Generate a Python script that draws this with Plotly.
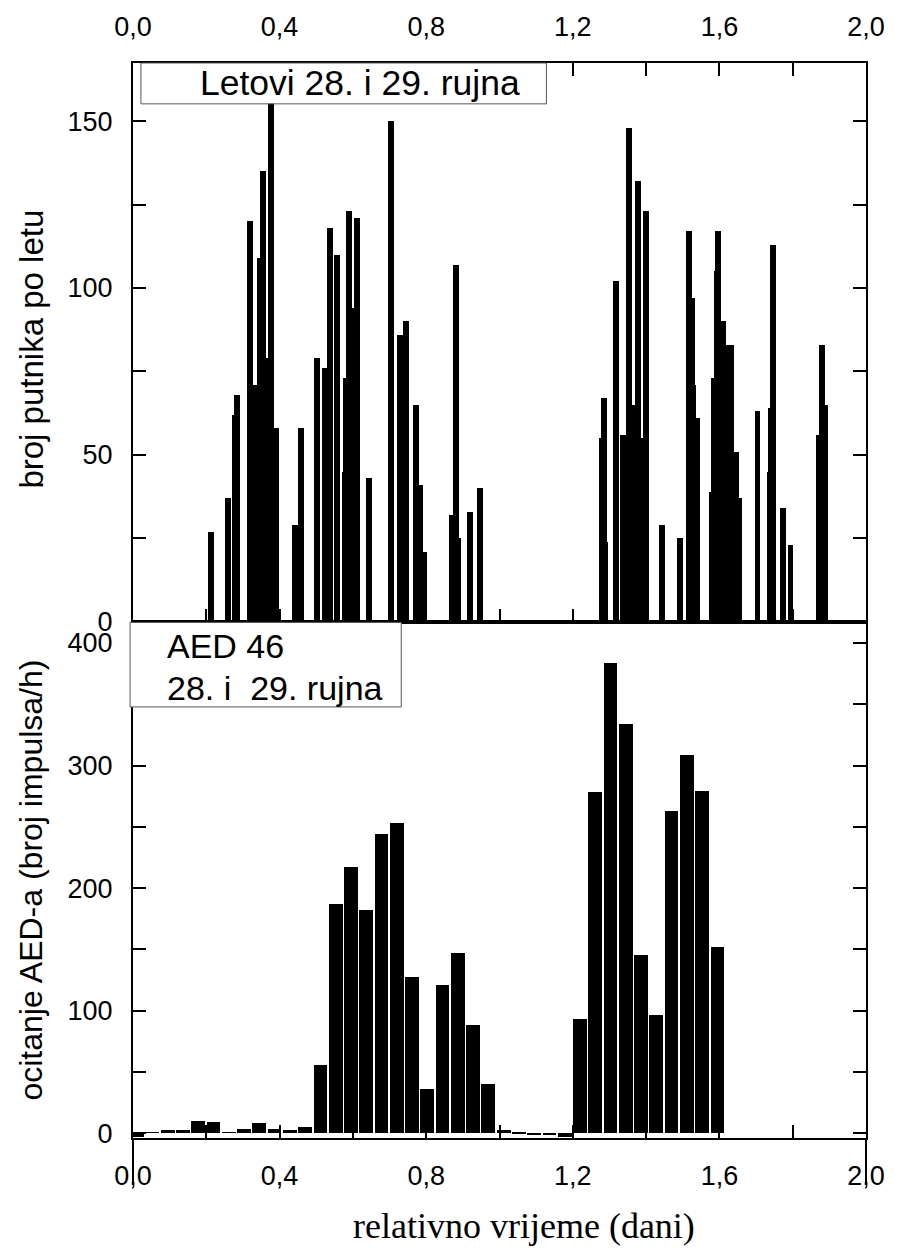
import plotly.graph_objects as go

# ---------------- data ----------------
# top panel: passengers per flight (time in days, count)
flight_time = [0.213, 0.259, 0.279, 0.285, 0.320, 0.332, 0.346, 0.354, 0.366, 0.377,
               0.391, 0.442, 0.458, 0.502, 0.524, 0.537, 0.557, 0.578, 0.582, 0.590,
               0.602, 0.612, 0.643, 0.703, 0.728, 0.745, 0.773, 0.784, 0.795, 0.870,
               0.881, 0.887, 0.919, 0.948,
               1.279, 1.284, 1.289, 1.319, 1.338, 1.354, 1.368, 1.378, 1.389, 1.399,
               1.443, 1.492, 1.516, 1.524, 1.529, 1.538, 1.581, 1.586, 1.592, 1.596,
               1.610, 1.623, 1.631, 1.645, 1.653, 1.704, 1.737, 1.740, 1.746, 1.774,
               1.794, 1.873, 1.881, 1.888]
passengers = [27, 37, 62, 68, 120, 71, 109, 135, 79, 158,
              58, 29, 58, 79, 76, 118, 110, 45, 73, 123,
              94, 121, 43, 150, 86, 90, 65, 41, 21, 32,
              107, 25, 33, 40,
              55, 67, 24, 102, 56, 148, 65, 132, 55, 123,
              29, 25, 117, 97, 71, 61, 39, 73, 105, 117,
              90, 83, 83, 51, 37, 63, 45, 64, 113, 34,
              23, 56, 83, 65]

# bottom panel: hourly AED readings (hour index from start, impulses/h)
aed_hour = list(range(48))
aed_rate = [-3, 0.5, 2, 2, 10, 9, 0.5, 3, 8, 3, 2, 5,
            55, 187, 217, 182, 244, 253, 127, 36, 121, 147, 88, 40,
            2, -0.5, -2, -2, -3.5, 93, 278, 383, 334, 145, 96, 263,
            308, 279, 152, 0, 0, 0, 0, 0, 0, 0, 0, 0]
aed_time = [(h + 0.27) / 24 for h in aed_hour]

x_tickvals = [0.0, 0.2, 0.4, 0.6, 0.8, 1.0, 1.2, 1.4, 1.6, 1.8, 2.0]
x_ticktext = ["0,0", "", "0,4", "", "0,8", "", "1,2", "", "1,6", "", "2,0"]
y1_tickvals = [0, 25, 50, 75, 100, 125, 150]
y1_ticktext = ["0", "", "50", "", "100", "", "150"]
y2_tickvals = [0, 50, 100, 150, 200, 250, 300, 350, 400]
y2_ticktext = ["0", "", "100", "", "200", "", "300", "", "400"]

SANS = "Liberation Sans, Arial, sans-serif"
SERIF = "Liberation Serif, Times New Roman, serif"

fig = go.Figure()
fig.add_trace(go.Bar(x=flight_time, y=passengers, width=0.0162,
                     marker=dict(color="black", line=dict(width=0)),
                     xaxis="x2", yaxis="y2", showlegend=False))
fig.add_trace(go.Bar(x=aed_time, y=aed_rate, width=0.0375,
                     marker=dict(color="black", line=dict(width=0)),
                     xaxis="x", yaxis="y", showlegend=False))

split = 0.4796
axis_common = dict(showline=True, linecolor="black", linewidth=2, ticks="inside",
                   ticklen=13, tickwidth=2, tickcolor="black", showgrid=False,
                   zeroline=False, tickfont=dict(family=SANS, size=27, color="black"))

fig.update_layout(
    width=897, height=1250,
    margin=dict(l=133, r=21, t=58, b=112),
    paper_bgcolor="white", plot_bgcolor="white",
    bargap=0, barmode="overlay",
    xaxis=dict(range=[0, 2.0], domain=[0, 1], anchor="y", side="bottom",
               tickvals=x_tickvals, ticktext=x_ticktext, mirror=True,
               ticklabelstandoff=13, **axis_common),
    yaxis=dict(range=[-3.8, 416.8], domain=[0, split], anchor="x",
               tickvals=y2_tickvals, ticktext=y2_ticktext, mirror="ticks",
               ticklabelstandoff=13, **axis_common),
    xaxis2=dict(range=[0, 2.0], domain=[0, 1], anchor="y2", side="top",
                tickvals=x_tickvals, ticktext=x_ticktext, mirror="ticks",
                ticklabelstandoff=14, **axis_common),
    yaxis2=dict(range=[-0.2, 167.4], domain=[split, 1], anchor="x2",
                tickvals=y1_tickvals, ticktext=y1_ticktext, mirror="ticks",
                ticklabelstandoff=13, **axis_common),
)

# legend boxes
fig.add_shape(type="rect", xref="paper", yref="paper", x0=0.0108, x1=0.564, y0=0.962, y1=1.0,
              line=dict(color="#555555", width=1), fillcolor="white", layer="above")
fig.add_shape(type="rect", xref="paper", yref="paper", x0=-0.004, x1=0.366, y0=0.401, y1=split,
              line=dict(color="#555555", width=1), fillcolor="white", layer="above")
# axis line extensions below the bottom frame
for xp in (0, 1):
    fig.add_shape(type="line", xref="paper", yref="paper", x0=xp, x1=xp, y0=-0.042, y1=0,
                  line=dict(color="black", width=2))

fig.add_annotation(text="Letovi 28. i 29. rujna", xref="paper", yref="paper",
                   x=0.310, y=0.981, xanchor="center", yanchor="middle", showarrow=False,
                   font=dict(family=SANS, size=35.5, color="black"))
fig.add_annotation(text="AED 46", xref="paper", yref="paper",
                   x=0.043, y=0.4574, xanchor="left", yanchor="middle", showarrow=False,
                   font=dict(family=SANS, size=34, color="black"))
fig.add_annotation(text="28. i\u00a0 29. rujna", xref="paper", yref="paper",
                   x=0.043, y=0.4185, xanchor="left", yanchor="middle", showarrow=False,
                   font=dict(family=SANS, size=34, color="black"))

fig.add_annotation(text="broj putnika po letu", xref="paper", yref="paper",
                   x=-0.1386, y=(split + 1) / 2 - 0.006, xanchor="center", yanchor="middle",
                   textangle=-90, showarrow=False,
                   font=dict(family=SANS, size=33, color="black"))
fig.add_annotation(text="ocitanje AED-a (broj impulsa/h)", xref="paper", yref="paper",
                   x=-0.1386, y=split / 2, xanchor="center", yanchor="middle",
                   textangle=-90, showarrow=False,
                   font=dict(family=SANS, size=32, color="black"))
fig.add_annotation(text="relativno vrijeme (dani)", xref="paper", yref="paper",
                   x=0.534, y=-0.0815, xanchor="center", yanchor="middle", showarrow=False,
                   font=dict(family=SERIF, size=36, color="black"))

fig.write_html("out.html",
               config={"displayModeBar": False},
               post_script="document.body.style.margin='0';"
                           "document.body.style.overflow='hidden';"
                           "document.documentElement.style.overflow='hidden';")
